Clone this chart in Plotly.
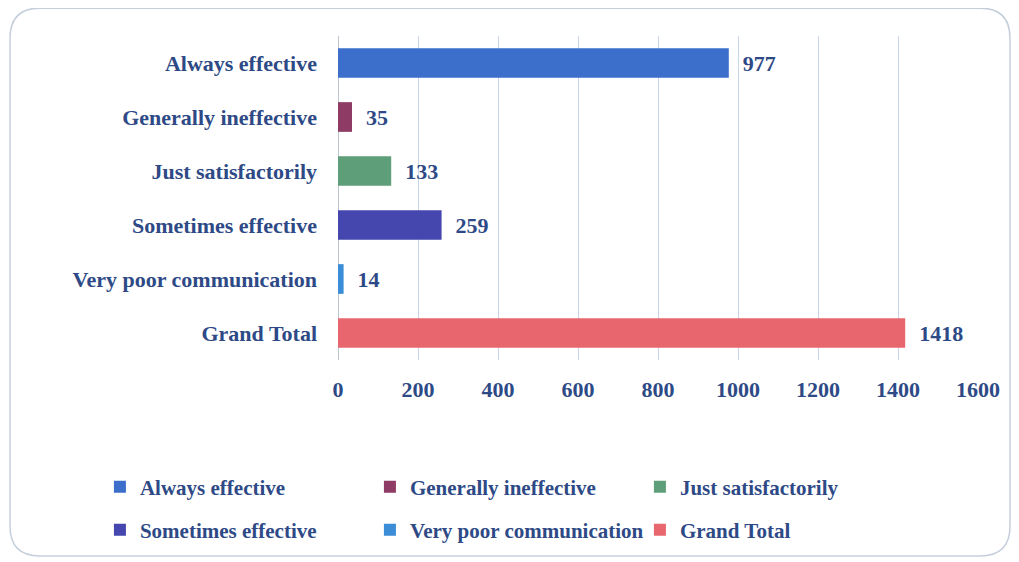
import plotly.graph_objects as go

CATEGORIES = [
    "Always effective",
    "Generally ineffective",
    "Just satisfactorily",
    "Sometimes effective",
    "Very poor communication",
    "Grand Total",
]
COUNTS = [977, 35, 133, 259, 14, 1418]
X_TICKS = [0, 200, 400, 600, 800, 1000, 1200, 1400, 1600]

BAR_COLORS = ["#3B6FCB", "#8E3B66", "#5E9E78", "#4647AE", "#3A8DD6", "#E8676F"]
TEXT_COLOR = "#2E4A86"
GRID_COLOR = "#C9D5EA"
FONT = "Liberation Serif, DejaVu Serif, serif"
FS = 22

fig = go.Figure()
for i, (cat, val, col) in enumerate(zip(CATEGORIES, COUNTS, BAR_COLORS)):
    fig.add_trace(
        go.Bar(
            y=[cat],
            x=[val],
            orientation="h",
            name=cat,
            marker=dict(color=col, line_width=0),
            width=0.55,
            text=[val],
            texttemplate="\u00a0\u00a0%{text}",
            textposition="outside",
            textfont=dict(color=TEXT_COLOR, size=FS, family=FONT, weight="bold"),
            cliponaxis=False,
            legend="legend" if i < 3 else "legend2",
        )
    )

# rounded frame around the whole chart (paper coords, plot area 640x324 px)
x0, x1 = -0.5125, 1.05
y0, y1 = -0.605, 1.086
rx, ry = 30 / 640, 30 / 324
frame = (
    f"M {x0 + rx},{y1} L {x1 - rx},{y1} Q {x1},{y1} {x1},{y1 - ry} "
    f"L {x1},{y0 + ry} Q {x1},{y0} {x1 - rx},{y0} "
    f"L {x0 + rx},{y0} Q {x0},{y0} {x0},{y0 + ry} "
    f"L {x0},{y1 - ry} Q {x0},{y1} {x0 + rx},{y1} Z"
)

legend_common = dict(
    orientation="h",
    xanchor="left",
    yanchor="middle",
    x=-0.372,
    font=dict(color=TEXT_COLOR, size=21, family=FONT, weight="bold"),
    entrywidth=225,
    entrywidthmode="pixels",
    itemwidth=30,
    bgcolor="rgba(0,0,0,0)",
    traceorder="normal",
)

fig.update_layout(
    width=1008,
    height=550,
    margin=dict(l=330, r=38, t=28, b=198, autoexpand=False),
    paper_bgcolor="white",
    plot_bgcolor="white",
    barmode="overlay",
    font=dict(family=FONT, color=TEXT_COLOR, size=FS),
    xaxis=dict(
        range=[0, 1600],
        tickvals=X_TICKS,
        showgrid=True,
        gridcolor=GRID_COLOR,
        gridwidth=1,
        zeroline=True,
        zerolinecolor="#BFC6D2",
        zerolinewidth=1,
        showline=False,
        ticks="",
        tickfont=dict(size=FS, color=TEXT_COLOR, family=FONT, weight="bold"),
        ticklabelstandoff=14,
        fixedrange=True,
    ),
    yaxis=dict(
        autorange="reversed",
        showgrid=False,
        showline=False,
        ticks="",
        tickfont=dict(size=FS, color=TEXT_COLOR, family=FONT, weight="bold"),
        ticklabelstandoff=20,
        fixedrange=True,
    ),
    legend=dict(y=-0.392, **legend_common),
    legend2=dict(y=-0.525, **legend_common),
    shapes=[
        dict(
            type="path",
            path=frame,
            xref="paper",
            yref="paper",
            line=dict(color="#C5CFDC", width=1.5),
            layer="below",
        )
    ],
)

fig.write_html("out.html")
